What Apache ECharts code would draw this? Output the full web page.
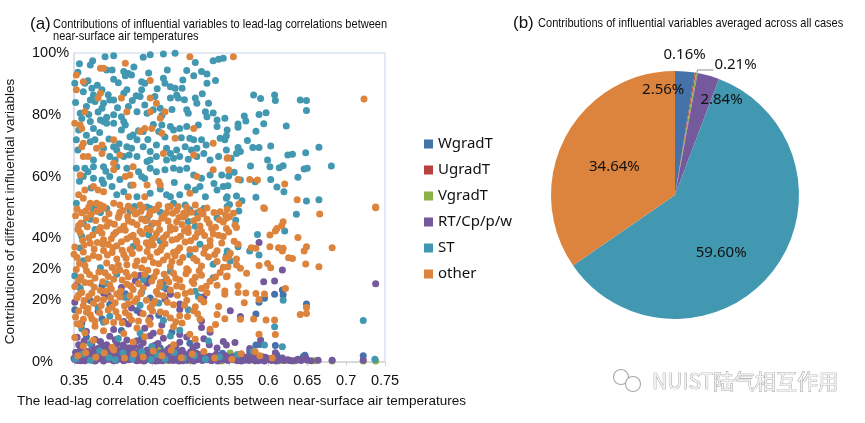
<!DOCTYPE html>
<html>
<head>
<meta charset="UTF-8">
<title>Contributions of influential variables</title>
<script src="https://cdn.jsdelivr.net/npm/echarts@6/dist/echarts.min.js"></script>
<style>
  html, body { margin: 0; padding: 0; background: #fff; }
  #chart { width: 865px; height: 423px; }
</style>
</head>
<body>
<div id="chart"></div>
<script>
// ---- data ----
// (a) scatter: [correlation coefficient, contribution %]
// the y scale of the original is pixel-linear 0..100, but its labels read 0,20,20,40,60,80,100
var yTickLabels = { 0: '0%', 20: '20%', 30: '20%', 40: '40%', 60: '60%', 80: '80%', 100: '100%' };

var wgradT = [
  [.446,27.1],[.347,22.8],[.386,24.7],[.416,22.1],[.465,25.8],[.371,19.9],[.396,18.6],[.420,21.2],[.448,20.7],
  [.351,16.9],[.386,14.0],[.431,16.7],[.459,15.1],[.360,12.6],[.411,10.2],[.476,9.7],
  [.366,8.1],[.386,5.5],[.437,7.8],[.461,4.5],[.499,6.1],
  [.608,21.9],[.618,23.3],[.619,21.7],[.595,20.6],[.588,19.3],[.649,18.8],[.584,15.5],[.576,3.3],[.584,5.5],
  [.609,5.3],[.722,2.0],[.647,2.2],[.589,5.7],
  [.359,0.9],[.373,2.9],[.391,1.5],[.409,3.2],[.431,1.0],[.447,2.6],[.469,1.7],[.487,3.3],[.513,1.1],
  [.541,2.8],[.571,1.0],[.592,1.7],[.611,2.3],[.645,1.8]
];
var ugradT = [[.436,0.6],[.497,1.0],[.562,0.5]];
var vgradT = [
  [.458,3.9],[.471,0.5],[.498,0.5],[.520,1.2],[.540,0.3],[.551,2.9],[.566,0.8],[.583,0.4],[.598,0.9],
  [.614,0.4],[.621,0.6],[.633,0.3],[.647,0.9],[.660,0.4],[.682,0.3],[.722,0.3],[.738,0.3]
];
var rtCpPW = [
  [.435,28.0],[.429,26.3],[.354,25.0],[.388,22.3],[.411,24.1],[.444,25.5],[.469,23.6],[.474,21.9],
  [.351,19.3],[.394,21.5],[.424,17.5],[.467,20.4],[.486,18.8],[.517,21.1],
  [.347,15.8],[.349,13.7],[.381,16.4],[.414,13.1],[.435,15.9],[.448,14.3],[.486,17.0],[.514,13.3],
  [.349,11.9],[.366,9.9],[.401,10.5],[.420,12.3],[.441,10.9],[.452,9.3],[.463,12.0],[.486,8.9],[.514,11.2],[.525,9.6],
  [.347,6.2],[.354,8.0],[.360,5.1],[.377,7.3],[.390,4.9],[.396,8.3],[.405,5.8],[.418,7.1],[.422,4.6],[.431,6.9],
  [.448,8.5],[.454,5.4],[.465,7.7],[.474,4.7],[.486,6.4],[.495,8.1],[.508,5.3],[.517,7.5],[.534,4.5],[.542,6.6],
  [.588,38.7],[.618,29.8],[.594,26.0],[.608,26.2],[.738,25.3],[.551,16.6],[.564,14.7],[.590,7.1],[.576,4.4],
  [.609,3.0],[.557,6.3],[.546,5.5],
  [.356,5.6],[.363,6.8],[.373,5.3],[.384,6.6],[.392,5.6],[.403,7.2],[.413,5.5],[.427,5.2],[.439,6.2],[.458,6.0],
  [.481,5.0],[.503,4.6],[.524,5.6],
  [.350,1.2],[.352,3.1],[.354,0.5],[.356,2.2],[.358,3.8],[.360,1.0],[.362,2.7],[.364,0.4],[.366,1.8],[.368,3.4],
  [.370,0.8],[.372,2.5],[.374,1.4],[.376,3.9],[.378,0.6],[.380,2.0],[.382,3.2],[.384,1.1],[.386,2.8],[.388,0.3],
  [.390,1.7],[.392,3.6],[.394,0.9],[.396,2.4],[.398,4.2],[.400,1.3],[.402,3.0],[.404,0.5],[.406,2.1],[.408,3.7],
  [.410,1.0],[.412,2.6],[.414,0.4],[.416,1.9],[.418,3.3],[.420,0.7],[.422,2.3],[.424,4.0],[.426,1.5],[.428,3.1],
  [.430,0.6],[.432,2.0],[.434,3.5],[.436,1.2],[.438,2.7],[.440,0.3],[.442,1.8],[.444,3.9],[.446,1.0],[.448,2.4],
  [.450,0.5],[.452,1.6],[.454,3.2],[.456,0.8],[.458,2.2],[.460,1.3],[.462,2.9],[.464,0.4],[.466,1.7],[.468,3.4],
  [.470,0.9],[.472,2.1],[.474,1.2],[.476,2.8],[.478,0.5],[.480,1.9],[.482,3.0],[.484,0.7],[.486,1.5],[.488,2.6],
  [.490,0.4],[.492,1.8],[.494,0.9],[.496,2.3],[.498,1.1],[.500,3.3],[.503,0.6],[.506,1.6],[.509,0.8],[.512,2.4],
  [.515,0.5],[.518,1.3],[.521,0.7],[.524,1.9],[.527,0.4],[.530,1.1],[.533,2.5],[.536,0.6],[.539,1.4],[.542,0.8],
  [.545,2.0],[.548,0.5],[.551,1.2],[.554,0.7],[.557,1.8],[.560,0.4],[.563,1.0],[.566,2.2],[.569,0.6],[.572,1.5],
  [.575,0.5],[.578,1.2],[.581,0.8],[.584,1.9],[.587,0.4],[.590,1.1],[.593,0.6],[.596,1.5],[.600,0.8],[.604,0.5],
  [.608,1.2],[.612,0.6],[.616,0.9],[.620,0.5],[.625,0.7],[.630,0.4],[.636,0.6],[.642,0.5],[.648,1.4],[.650,0.6],
  [.664,0.6],[.682,0.6],[.722,0.6],
  [.351,0.8],[.357,1.5],[.363,3.5],[.369,2.0],[.375,0.5],[.381,4.4],[.387,1.5],[.393,2.2],[.399,0.7],[.405,3.6],
  [.411,1.9],[.417,4.6],[.423,0.9],[.429,2.4],[.435,4.8],[.441,0.6],[.447,3.2],[.453,4.5],[.459,0.4],[.465,2.5],
  [.471,4.1],[.477,1.0],[.483,2.2],[.489,3.8],[.495,0.6],[.501,1.9],[.507,2.9],
  [.353,1.9],[.359,0.4],[.365,2.9],[.371,1.6],[.377,0.3],[.383,2.4],[.389,0.9],[.395,3.1],[.401,0.4],[.407,1.5],
  [.413,3.4],[.419,1.1],[.425,2.9],[.431,0.4],[.437,1.9],[.443,2.6],[.449,1.3],[.455,0.3],[.461,2.0],[.467,3.0],
  [.473,0.6],[.479,2.2],[.485,0.3],[.491,2.8],[.497,1.6],[.504,0.3],[.510,1.7],[.516,2.6],[.523,0.9],[.529,1.8],
  [.535,0.3],[.541,1.9],[.547,0.9],[.553,1.6],[.559,0.9],[.565,0.3],[.571,0.9],[.577,2.1],[.583,0.4],[.589,1.6],
  [.595,0.3],[.602,1.1],[.610,0.3],[.618,1.3],[.627,0.5],[.638,0.9],[.655,0.4]
];
var st = [
  [.390,98.8],[.401,99.1],[.439,98.6],[.448,99.4],[.465,99.7],[.480,99.9],[.506,96.9],[.529,97.5],[.536,98.0],
  [.542,98.3],[.374,97.5],[.357,96.5],[.371,96.1],[.392,94.5],[.399,94.5],[.414,94.0],[.420,93.4],[.424,92.9],
  [.416,92.6],[.401,91.5],[.364,90.2],[.351,90.2],[.349,92.4],[.495,94.3],[.504,92.6],[.514,94.0],[.521,93.2],
  [.521,90.2],[.532,91.1],[.437,90.7],[.441,90.2],[.465,91.8],[.467,90.2],[.474,89.1],[.373,88.6],[.375,86.4],
  [.386,88.1],[.371,84.8],[.377,84.3],[.388,83.7],[.366,82.7],[.358,80.5],[.386,82.1],[.396,84.8],[.401,84.8],
  [.414,87.0],[.418,88.1],[.437,88.1],[.435,85.9],[.454,85.9],[.452,81.6],[.461,82.1],[.444,80.5],[.420,82.7],
  [.431,81.0],[.480,88.6],[.489,88.6],[.482,86.4],[.474,85.4],[.484,85.4],[.506,85.4],[.508,83.7],[.523,83.7],
  [.495,81.6],[.497,80.5],[.519,81.0],[.521,79.4],[.534,78.3],[.544,78.9],[.401,80.0],[.356,75.1],[.371,77.8],
  [.375,75.6],[.384,78.3],[.388,77.8],[.392,77.3],[.401,77.3],[.411,79.4],[.414,77.8],[.416,76.7],[.411,75.1],
  [.422,72.9],[.426,73.5],[.431,71.9],[.439,74.6],[.463,76.7],[.459,74.6],[.474,76.2],[.478,75.1],[.486,75.6],
  [.495,76.2],[.510,76.7],[.499,72.4],[.504,71.9],[.514,71.9],[.538,72.4],[.544,71.9],[.534,76.2],[.547,75.1],
  [.353,71.9],[.371,71.3],[.377,71.9],[.388,69.2],[.401,69.7],[.405,68.6],[.418,69.7],[.424,69.2],[.439,69.7],
  [.448,68.1],[.456,70.2],[.469,69.2],[.474,67.5],[.482,68.6],[.493,69.7],[.501,68.6],[.508,69.2],[.349,65.4],
  [.375,65.4],[.396,66.5],[.403,65.4],[.414,66.5],[.431,66.5],[.444,64.9],[.448,65.4],[.456,66.5],[.469,65.4],
  [.478,65.9],[.486,66.5],[.508,66.5],[.517,67.5],[.525,65.4],[.536,66.5],[.353,62.7],[.364,62.7],[.368,61.6],
  [.375,63.2],[.388,63.2],[.405,63.2],[.418,62.7],[.433,61.6],[.437,60.0],[.448,62.7],[.456,61.6],[.467,62.2],
  [.478,62.7],[.486,62.2],[.495,62.7],[.504,60.5],[.514,59.5],[.525,60.5],[.540,60.5],[.362,60.0],[.375,59.5],
  [.386,58.9],[.396,60.0],[.349,55.7],[.388,57.8],[.399,56.8],[.405,54.1],[.414,55.1],[.431,53.5],[.448,54.6],
  [.469,54.1],[.474,53.5],[.486,54.1],[.506,55.7],[.512,56.8],[.519,53.5],[.534,55.7],[.542,56.8],[.547,53.5],
  [.353,51.4],[.420,50.3],[.428,50.3],[.448,49.7],[.478,51.4],[.493,50.8],[.517,49.7],[.547,50.3],
  [.355,93.8],[.362,87.5],[.368,91.0],[.380,89.6],[.394,86.5],[.407,90.4],[.427,95.5],[.430,86.2],[.446,93.5],
  [.457,88.4],[.470,94.5],[.490,91.3],[.352,84.0],[.360,78.8],[.369,80.1],[.381,80.9],[.392,79.2],[.406,82.3],
  [.425,84.6],[.441,83.2],[.463,79.8],[.476,81.7],[.492,84.9],[.515,86.8],[.529,80.6],[.355,68.6],[.366,73.4],
  [.383,74.3],[.395,72.2],[.408,70.6],[.421,67.0],[.433,74.8],[.445,72.0],[.452,76.9],[.467,72.8],[.488,72.6],
  [.497,65.6],[.520,70.2],[.357,58.5],[.372,56.3],[.391,61.7],[.409,59.1],[.423,57.2],[.441,59.4],[.461,56.0],
  [.479,58.1],[.496,56.6],[.530,57.8],
  [.581,86.4],[.590,85.3],[.608,86.4],[.609,84.6],[.641,84.8],[.649,84.6],[.649,81.4],[.569,79.6],[.588,80.1],
  [.597,80.7],[.571,78.0],[.561,77.0],[.561,76.0],[.594,77.1],[.623,76.4],[.584,74.7],[.546,73.2],[.573,71.7],
  [.580,69.4],[.588,69.4],[.603,69.9],[.665,69.5],[.561,69.4],[.564,68.1],[.559,67.5],[.546,68.6],[.625,67.0],
  [.631,67.2],[.648,67.7],[.552,65.9],[.599,65.4],[.577,63.4],[.602,63.2],[.614,62.9],[.619,63.5],[.646,62.5],
  [.650,62.7],[.681,63.4],[.556,61.4],[.549,60.2],[.564,58.9],[.603,59.1],[.583,58.3],[.638,59.8],[.548,57.0],
  [.611,56.6],[.620,55.1],[.559,53.7],[.584,53.3],[.546,53.0],[.649,52.1],[.665,52.5],[.550,51.0],[.566,52.2],
  [.375,49.2],[.377,50.5],[.384,48.4],[.392,49.7],[.422,48.9],[.444,50.2],[.461,48.5],[.499,49.3],[.508,48.2],
  [.362,44.8],[.371,46.2],[.444,46.4],[.450,44.6],[.497,45.5],[.506,43.9],[.534,46.7],
  [.360,40.7],[.377,42.9],[.446,41.2],[.461,39.2],[.358,36.9],[.426,37.4],[.512,38.1],[.547,35.9],
  [.362,32.8],[.384,30.5],[.499,34.7],[.529,31.6],[.351,27.9],[.405,28.4],[.439,26.6],[.474,29.4],[.529,27.3],
  [.358,23.9],[.392,25.3],[.437,22.6],[.465,24.2],[.506,22.9],[.347,19.8],[.381,17.7],[.416,20.9],[.435,18.4],
  [.459,19.1],[.510,21.2],[.396,14.8],[.465,13.5],[.497,16.9],[.360,10.8],[.388,12.9],[.435,9.4],[.486,10.3],
  [.371,6.0],[.407,7.6],[.450,5.0],[.474,8.4],[.523,6.8],
  [.562,48.9],[.636,47.8],[.558,45.9],[.621,42.4],[.586,41.3],[.561,37.3],[.576,35.9],[.588,34.6],[.546,34.4],
  [.551,32.7],[.619,20.0],[.608,11.4],[.722,13.4],[.595,5.5],[.618,4.9],[.737,0.9],
  [.352,1.0],[.361,2.5],[.371,0.6],[.383,3.6],[.395,1.4],[.403,0.7],[.413,2.9],[.425,1.1],[.437,3.3],[.449,0.8],
  [.457,2.4],[.467,1.0],[.479,3.1],[.491,1.3],[.505,2.1],[.519,0.9],[.537,1.6],[.560,2.4],[.580,3.5]
];
var other = [
  [.499,98.8],[.388,95.1],[.384,95.1],[.416,96.7],[.353,92.9],[.362,90.7],[.448,91.1],[.353,88.1],[.384,87.0],
  [.381,85.4],[.364,81.0],[.411,85.4],[.448,85.4],[.456,83.7],[.467,81.0],[.448,81.0],[.418,81.0],[.351,77.3],
  [.358,76.7],[.360,75.6],[.435,74.6],[.441,75.6],[.450,75.6],[.461,78.9],[.463,74.0],[.480,72.4],[.504,75.6],
  [.529,70.8],[.362,70.8],[.360,69.7],[.386,70.2],[.379,69.2],[.401,71.9],[.362,66.5],[.368,66.5],[.386,67.5],
  [.401,64.3],[.409,67.0],[.465,67.5],[.504,67.0],[.547,65.9],[.401,62.2],[.422,60.5],[.416,60.0],[.426,63.2],
  [.508,60.0],[.529,62.2],[.549,62.2],[.358,60.5],[.356,54.1],[.362,53.0],[.364,55.7],[.375,56.8],[.381,55.7],
  [.388,55.1],[.420,53.5],[.426,57.3],[.444,57.3],[.441,53.5],[.459,58.4],[.461,57.3],[.499,54.6],[.371,51.4],
  [.379,51.4],[.384,50.8],[.388,50.3],[.401,51.4],[.409,50.8],[.435,50.8],[.459,50.8],[.471,50.3],[.484,50.3],
  [.506,50.8],
  [.555,98.8],[.723,85.1],[.548,66.1],[.561,59.1],[.576,59.1],[.586,58.9],[.621,57.6],[.637,52.5],[.594,49.9],
  [.738,50.2],[.562,51.1],
  [.354,49.5],[.360,48.3],[.369,50.2],[.379,48.8],[.388,49.9],[.409,48.5],[.420,50.4],[.426,49.1],[.431,48.2],
  [.439,50.0],[.448,48.7],[.456,49.6],[.469,48.4],[.474,50.3],[.482,49.0],[.491,48.1],[.495,50.1],[.512,48.9],
  [.521,49.8],[.538,48.6],[.547,49.4],
  [.352,47.3],[.359,45.0],[.365,48.9],[.372,47.7],[.378,45.8],[.383,49.3],[.390,46.2],[.395,48.0],[.402,44.6],
  [.408,47.5],[.413,49.0],[.419,47.1],[.425,45.2],[.429,47.9],[.436,48.8],[.442,45.7],[.447,47.6],[.453,49.2],
  [.458,44.9],[.466,47.4],[.471,45.6],[.477,48.1],[.485,46.8],[.489,44.5],[.494,47.7],[.501,48.5],[.509,46.5],
  [.516,47.9],[.524,44.9],[.530,48.4],[.537,46.0],[.545,47.6],
  [.349,45.9],[.356,44.2],[.366,46.6],[.384,43.5],[.396,45.1],[.407,46.8],[.414,43.9],[.420,45.6],[.431,44.4],
  [.437,46.3],[.444,43.2],[.452,45.0],[.463,46.5],[.474,43.7],[.482,45.4],[.491,46.9],[.497,43.4],[.504,45.7],
  [.512,44.0],[.521,46.2],[.532,43.6],[.542,45.3],
  [.355,42.9],[.361,39.4],[.367,43.8],[.374,41.1],[.380,38.7],[.386,41.7],[.392,43.9],[.398,39.9],[.404,42.0],
  [.411,38.9],[.416,42.6],[.423,40.5],[.430,39.2],[.438,41.5],[.443,38.6],[.448,42.8],[.454,40.3],[.460,42.9],
  [.469,41.2],[.476,39.5],[.480,43.1],[.487,40.7],[.492,42.5],[.500,39.2],[.509,41.8],[.518,40.9],[.527,43.2],
  [.536,41.0],
  [.358,41.8],[.369,40.2],[.381,42.5],[.388,39.6],[.401,41.3],[.409,42.8],[.418,39.9],[.426,41.0],[.435,42.3],
  [.450,39.4],[.456,41.6],[.465,40.1],[.474,42.6],[.482,39.8],[.497,41.9],[.506,40.4],[.514,42.2],[.525,39.3],
  [.529,41.4],[.542,40.6],[.549,42.1],
  [.351,37.2],[.362,35.6],[.371,38.4],[.388,36.1],[.394,38.0],[.399,35.4],[.405,37.6],[.422,36.4],[.431,38.6],
  [.444,35.8],[.452,37.9],[.461,36.2],[.467,38.3],[.478,35.5],[.486,37.0],[.493,38.8],[.506,36.6],[.517,35.2],
  [.525,37.7],[.534,36.0],[.540,38.5],
  [.350,34.9],[.357,31.9],[.363,37.9],[.368,33.4],[.376,36.6],[.382,33.9],[.387,38.2],[.393,34.6],[.400,37.0],
  [.407,31.4],[.412,36.2],[.417,33.6],[.425,35.1],[.429,31.2],[.434,36.8],[.440,33.0],[.446,37.6],[.452,32.2],
  [.457,35.5],[.463,37.3],[.470,34.3],[.476,32.5],[.483,36.0],[.490,33.8],[.499,36.4],[.508,32.8],[.519,36.9],
  [.531,34.8],[.545,33.6],
  [.354,33.8],[.364,31.2],[.375,34.5],[.392,32.0],[.399,30.6],[.405,33.3],[.414,34.8],[.418,31.5],[.431,32.7],
  [.437,30.4],[.448,34.1],[.459,31.8],[.465,33.0],[.474,30.9],[.480,34.4],[.486,32.3],[.495,30.2],[.504,33.6],
  [.514,31.1],[.523,34.0],[.534,32.5],[.542,30.7],
  [.353,29.9],[.359,27.5],[.364,25.7],[.370,28.3],[.376,24.2],[.382,29.1],[.387,26.0],[.394,27.7],[.398,23.6],
  [.403,29.3],[.412,26.5],[.417,29.0],[.423,24.6],[.428,28.2],[.433,25.3],[.445,29.7],[.453,27.6],[.460,24.4],
  [.466,28.4],[.472,25.9],[.481,27.1],[.489,24.3],[.494,28.6],[.502,26.1],[.511,29.5],[.520,24.5],[.532,27.5],
  [.349,28.6],[.356,26.4],[.366,29.5],[.377,27.2],[.390,28.9],[.401,26.8],[.409,29.8],[.420,27.6],[.441,28.3],
  [.450,26.2],[.456,29.2],[.469,27.0],[.478,28.7],[.486,26.5],[.497,29.6],[.506,27.4],[.514,28.1],[.525,26.1],
  [.538,29.0],[.547,27.8],
  [.351,24.4],[.360,22.5],[.371,25.6],[.384,23.1],[.396,24.9],[.405,22.0],[.418,25.2],[.426,23.5],[.439,24.0],
  [.456,22.8],[.461,25.7],[.474,23.3],[.482,24.6],[.493,22.2],[.504,25.4],[.514,23.8],[.521,22.4],[.534,24.8],
  [.544,23.0],
  [.356,21.7],[.363,19.9],[.368,17.3],[.373,22.3],[.380,20.5],[.385,18.3],[.391,22.9],[.397,20.8],[.403,19.2],
  [.410,23.0],[.415,18.1],[.422,21.4],[.428,19.6],[.436,22.1],[.443,20.0],[.451,18.7],[.458,21.9],[.470,19.3],
  [.483,21.6],[.492,18.4],[.500,22.7],[.513,20.3],
  [.354,20.8],[.362,18.2],[.369,21.3],[.375,19.0],[.388,20.2],[.399,17.8],[.409,21.0],[.420,18.9],[.431,20.5],
  [.448,17.6],[.454,19.7],[.465,21.4],[.478,18.5],[.495,20.0],[.506,17.9],[.517,19.4],[.536,18.0],
  [.352,14.6],[.358,12.0],[.366,16.1],[.373,14.0],[.383,15.9],[.391,13.1],[.404,16.3],[.412,12.7],[.421,15.0],
  [.433,13.3],[.451,16.5],[.468,15.7],[.481,13.0],[.496,14.7],[.509,15.6],
  [.356,16.5],[.362,13.8],[.371,15.3],[.377,13.2],[.394,16.8],[.407,14.5],[.416,16.0],[.424,13.6],[.439,15.6],
  [.446,13.4],[.461,16.2],[.474,14.2],[.486,15.0],[.504,16.6],[.512,13.9],[.534,15.4],[.544,14.0],
  [.354,12.4],[.364,9.5],[.377,11.6],[.388,10.1],[.401,12.8],[.414,9.2],[.431,11.0],[.448,12.2],[.461,9.8],
  [.478,11.4],[.489,12.6],[.499,9.0],[.525,10.6],[.532,12.1],
  [.351,7.9],[.362,5.2],[.375,7.0],[.399,4.8],[.426,6.5],[.441,8.2],[.478,5.6],[.506,7.4],
  [.595,49.7],[.666,47.9],[.738,49.9],[.546,46.5],[.550,47.0],[.555,48.1],[.557,44.3],[.559,43.5],[.546,43.2],
  [.619,45.4],[.617,44.1],[.611,43.2],[.609,42.4],[.602,41.1],[.638,40.3],[.556,39.1],[.561,38.1],[.578,37.0],
  [.584,36.8],[.602,37.3],[.613,37.0],[.619,36.8],[.618,35.9],[.649,37.3],[.646,35.9],[.682,37.0],[.551,35.2],
  [.549,34.1],[.559,33.3],[.626,33.7],[.631,33.5],[.548,30.8],[.559,31.4],[.564,30.3],[.588,31.2],[.599,31.9],
  [.603,30.5],[.648,31.7],[.665,30.8],[.572,28.7],[.546,27.6],[.561,24.7],[.561,22.5],[.571,22.3],[.584,22.2],
  [.595,22.0],[.544,21.9],[.588,20.2],[.569,19.2],[.622,23.8],[.641,15.4],[.649,17.6],[.649,15.7],[.564,13.8],
  [.581,13.9],[.597,13.6],[.608,13.6],[.609,8.9],[.588,9.0],[.583,3.3],
  [.355,2.0],[.365,3.0],[.378,1.5],[.389,2.9],[.401,3.9],[.415,1.3],[.427,2.6],[.439,1.6],[.452,3.6],[.463,2.0],
  [.475,3.8],[.488,1.4],[.502,2.6],[.517,3.4],[.531,1.3],[.553,0.9],[.565,2.7],[.589,2.0],[.605,1.3]
];

// (b) pie: averaged contributions, %
var pieNames = ['WgradT', 'UgradT', 'VgradT', 'RT/Cp/p/w', 'ST', 'other'];
var pieValues = [2.56, 0.16, 0.21, 2.84, 59.60, 34.64];

// ---- styling ----
var colors = {
  'WgradT': '#4472a9',
  'UgradT': '#b7413e',
  'VgradT': '#8bb04a',
  'RT/Cp/p/w': '#74599c',
  'ST': '#4298b0',
  'other': '#dc843d'
};
var arial = "'Liberation Sans', Arial, sans-serif";
var legendFont = "'Noto Sans', 'Open Sans', sans-serif";
// the panel titles are set in a condensed face; squeeze Liberation Sans horizontally
var titleSqueeze = 0.85;

// label nudges for the pie (small slices sit tight at the top)
var pieLabelShift = [[-17, -40], [-37, -18], [-4, -5], [29, -33], [-5, 18], [-3, 2]];

function scatterSeries(name, data) {
  return {
    name: name,
    type: 'scatter',
    data: data,
    symbolSize: 7,
    itemStyle: { color: colors[name], opacity: 1 },
    emphasis: { disabled: true },
    animation: false
  };
}

function titleText(str, x, y) {
  return {
    type: 'text', x: x, y: y, scaleX: titleSqueeze, silent: true,
    style: { text: str, font: "13px 'Liberation Sans', Arial, sans-serif", fill: '#111', verticalAlign: 'middle' }
  };
}

var chart = echarts.init(document.getElementById('chart'));

var option = {
  backgroundColor: '#fff',
  animation: false,
  legend: {
    orient: 'vertical',
    left: 419,
    top: 131,
    itemWidth: 9,
    itemHeight: 9,
    itemGap: 10,
    icon: 'rect',
    data: pieNames,
    selectedMode: false,
    textStyle: { fontFamily: legendFont, fontSize: 15, color: '#111', lineHeight: 16 }
  },
  grid: {
    left: 74, top: 53, width: 311, height: 309,
    show: true, borderColor: '#c6d8ec', borderWidth: 1, backgroundColor: 'transparent'
  },
  xAxis: {
    type: 'value',
    min: 0.35, max: 0.75, interval: 0.05,
    name: 'The lead-lag correlation coefficients between near-surface air temperatures',
    nameLocation: 'middle',
    nameGap: 32,
    nameTextStyle: { fontFamily: arial, fontSize: 13.5, color: '#111', padding: [0, 0, 0, 24] },
    axisLine: { lineStyle: { color: '#d4d4d4', width: 1.5 } },
    axisTick: { show: true, length: 4, lineStyle: { color: '#d4d4d4' } },
    splitLine: { show: false },
    axisLabel: { fontFamily: arial, fontSize: 14.5, color: '#111', margin: 11 }
  },
  yAxis: {
    type: 'value',
    min: 0, max: 100, interval: 10,
    name: 'Contributions of different influential variables',
    nameLocation: 'middle',
    nameGap: 57,
    nameRotate: 90,
    nameTextStyle: { fontFamily: arial, fontSize: 13.5, color: '#111', padding: [0, 8, 0, 0] },
    axisLine: { show: true, lineStyle: { color: '#d6dde6', width: 1.5 } },
    axisTick: { show: false },
    splitLine: { show: false },
    axisLabel: {
      fontFamily: arial, fontSize: 14.5, color: '#111', margin: 42, align: 'left',
      formatter: function (v) { return yTickLabels[v] || ''; }
    }
  },
  series: [
    scatterSeries('WgradT', wgradT),
    scatterSeries('UgradT', ugradT),
    scatterSeries('VgradT', vgradT),
    scatterSeries('RT/Cp/p/w', rtCpPW),
    scatterSeries('ST', st),
    scatterSeries('other', other),
    {
      type: 'pie',
      center: [675, 195],
      radius: 124,
      startAngle: 90,
      clockwise: true,
      avoidLabelOverlap: false,
      silent: true,
      animation: false,
      label: {
        fontFamily: legendFont, fontSize: 15, color: '#111',
        formatter: function (p) { return p.value.toFixed(2) + '%'; }
      },
      labelLayout: function (p) {
        var s = pieLabelShift[p.dataIndex];
        return { dx: s[0], dy: s[1] };
      },
      data: pieNames.map(function (n, i) {
        var item = { name: n, value: pieValues[i], itemStyle: { color: colors[n] } };
        if (i === 1) {
          item.label = { position: 'outside' };
          item.labelLine = { show: false, length: 0, length2: 0 };
        } else if (i === 2) {
          item.label = { position: 'outside' };
          item.labelLine = { show: true, length: 3, length2: 16, lineStyle: { color: '#8c8c8c', width: 1 } };
        } else {
          item.label = { position: 'inside' };
        }
        return item;
      })
    }
  ],
  graphic: [
    {
      type: 'text', x: 30, y: 24, silent: true,
      style: { text: '(a)', font: "17px 'Liberation Sans', Arial, sans-serif", fill: '#111', verticalAlign: 'middle' }
    },
    titleText('Contributions of influential variables to lead-lag correlations between', 53, 24),
    titleText('near-surface air temperatures', 53, 36),
    {
      type: 'text', x: 513, y: 23, silent: true,
      style: { text: '(b)', font: "17px 'Liberation Sans', Arial, sans-serif", fill: '#111', verticalAlign: 'middle' }
    },
    titleText('Contributions of influential variables averaged across all cases', 538, 23),
    {
      type: 'group', x: 610, y: 369, silent: true,
      children: [
        { type: 'circle', shape: { cx: 11, cy: 8, r: 7.5 }, style: { fill: '#fff', stroke: '#a8a8a8', lineWidth: 1.1 } },
        { type: 'circle', shape: { cx: 23, cy: 15, r: 7.5 }, style: { fill: '#fff', stroke: '#a8a8a8', lineWidth: 1.1 } }
      ]
    },
    {
      type: 'text', x: 652, y: 381, silent: true,
      style: {
        text: 'NUIST陆气相互作用',
        font: "21px 'Noto Sans CJK SC', 'Noto Sans', sans-serif",
        fill: '#f2f2f2', stroke: '#8e8e8e', lineWidth: 0.7, verticalAlign: 'middle'
      }
    }
  ]
};

chart.setOption(option);
</script>
</body>
</html>
